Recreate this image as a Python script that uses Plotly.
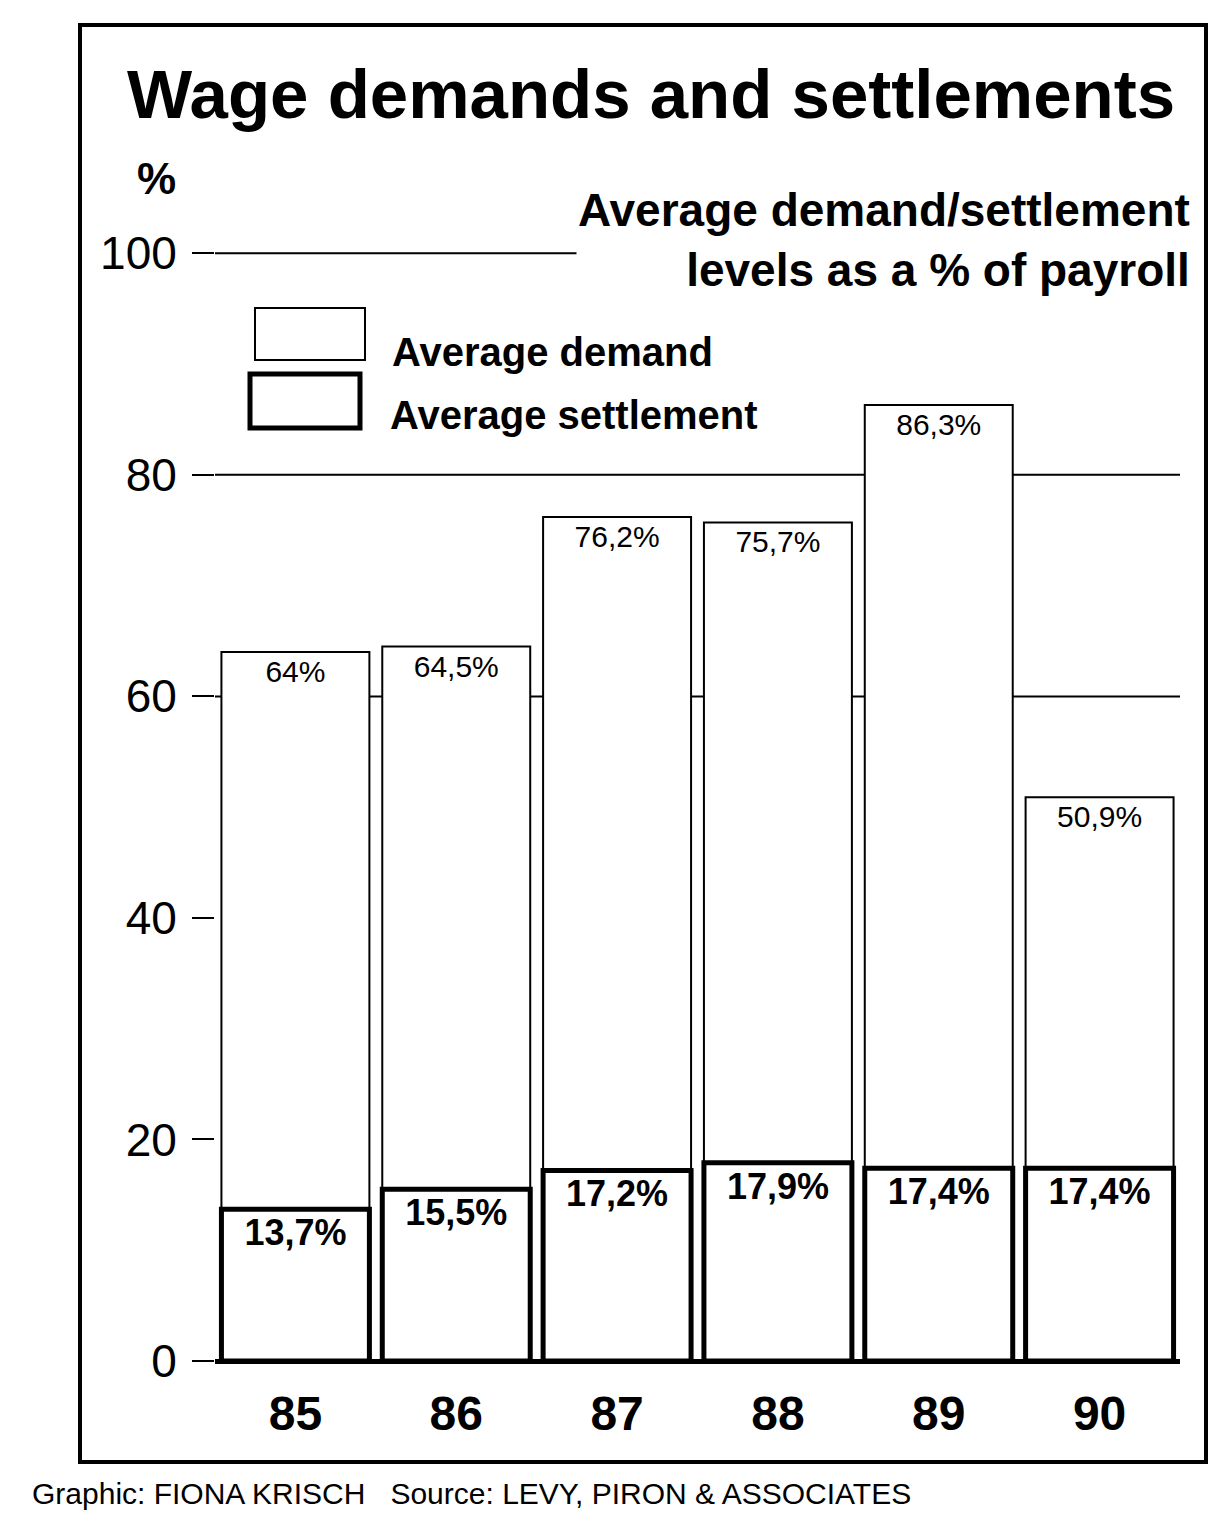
import plotly.graph_objects as go

years = ["85", "86", "87", "88", "89", "90"]
demand = [64.0, 64.5, 76.2, 75.7, 86.3, 50.9]
settlement = [13.7, 15.5, 17.2, 17.9, 17.4, 17.4]
y_ticks = [0, 20, 40, 60, 80, 100]
grid_levels = [60, 80, 100]

W, H = 1220, 1521
L, R, T, B = 215, 40, 250, 160
PW, PH = W - L - R, H - T - B


def px(x):
    return (x - L) / PW


def py(y):
    return (H - B - y) / PH


def pct(v):
    s = f"{v:.1f}".replace(".", ",")
    return (s[:-2] if s.endswith(",0") else s) + "%"


FONT = "Liberation Sans"

fig = go.Figure()

fig.add_trace(go.Bar(
    x=years, y=demand, name="Average demand",
    marker=dict(color="white", line=dict(color="black", width=2)),
    text=[pct(v) for v in demand], textposition="inside", insidetextanchor="end",
    textfont=dict(family=FONT, size=30, color="black"),
    width=0.92,
))
fig.add_trace(go.Bar(
    x=years, y=settlement, name="Average settlement",
    marker=dict(color="white", line=dict(color="black", width=5)),
    text=[pct(v) for v in settlement], textposition="inside", insidetextanchor="end",
    textfont=dict(family=FONT, size=36, color="black", weight="bold"),
    width=0.92,
))

fig.update_layout(
    width=W, height=H,
    barmode="overlay",
    showlegend=False,
    plot_bgcolor="white", paper_bgcolor="white",
    margin=dict(l=L, r=R, t=T, b=B),
    font=dict(family=FONT, color="black"),
    xaxis=dict(
        showgrid=False, showline=False, ticks="",
        tickfont=dict(size=48, weight="bold"), ticklabelstandoff=20,
    ),
    yaxis=dict(
        range=[0, 100.3], tickvals=y_ticks,
        showgrid=False,
        zeroline=True, zerolinecolor="black", zerolinewidth=5,
        showline=False, ticks="outside", ticklen=22, tickwidth=2, tickcolor="black",
        tickfont=dict(size=46), ticklabelstandoff=6,
    ),
)

# horizontal rules behind the bars
for g in grid_levels:
    fig.add_shape(type="line", xref="paper", yref="y", x0=0, x1=1, y0=g, y1=g,
                  line=dict(color="black", width=2), layer="below")

# title and labels
fig.add_annotation(text="<b>Wage demands and settlements</b>", x=px(125), y=py(95),
                   xref="paper", yref="paper", xanchor="left", yanchor="middle",
                   showarrow=False, font=dict(size=69))
fig.add_annotation(text="<b>%</b>", x=px(135), y=py(178), xref="paper", yref="paper",
                   xanchor="left", yanchor="middle", showarrow=False, font=dict(size=44))
fig.add_annotation(text="<b>Average demand/settlement<br>levels as a % of payroll</b>",
                   x=px(1192), y=py(240), xref="paper", yref="paper",
                   xanchor="right", yanchor="middle", align="right", showarrow=False,
                   font=dict(size=46), bgcolor="white")

# legend
fig.add_shape(type="rect", xref="paper", yref="paper", x0=px(255), x1=px(365),
              y0=py(360), y1=py(308), line=dict(color="black", width=2),
              fillcolor="white")
fig.add_shape(type="rect", xref="paper", yref="paper", x0=px(250), x1=px(360),
              y0=py(428), y1=py(374), line=dict(color="black", width=5),
              fillcolor="white")
fig.add_annotation(text="<b>Average demand</b>", x=px(390), y=py(352), xref="paper",
                   yref="paper", xanchor="left", yanchor="middle", showarrow=False,
                   font=dict(size=40))
fig.add_annotation(text="<b>Average settlement</b>", x=px(388), y=py(415), xref="paper",
                   yref="paper", xanchor="left", yanchor="middle", showarrow=False,
                   font=dict(size=40))

# border and credit
fig.add_shape(type="rect", xref="paper", yref="paper", x0=px(80), x1=px(1206),
              y0=py(1462), y1=py(25), line=dict(color="black", width=4), layer="below")
fig.add_annotation(text="Graphic: FIONA KRISCH   Source: LEVY, PIRON & ASSOCIATES",
                   x=px(30), y=py(1493), xref="paper", yref="paper",
                   xanchor="left", yanchor="middle", showarrow=False,
                   font=dict(size=30))

fig.write_html("out.html", config={"displayModeBar": False},
               post_script="document.body.style.margin='0';"
                           "document.body.style.overflow='hidden';")
